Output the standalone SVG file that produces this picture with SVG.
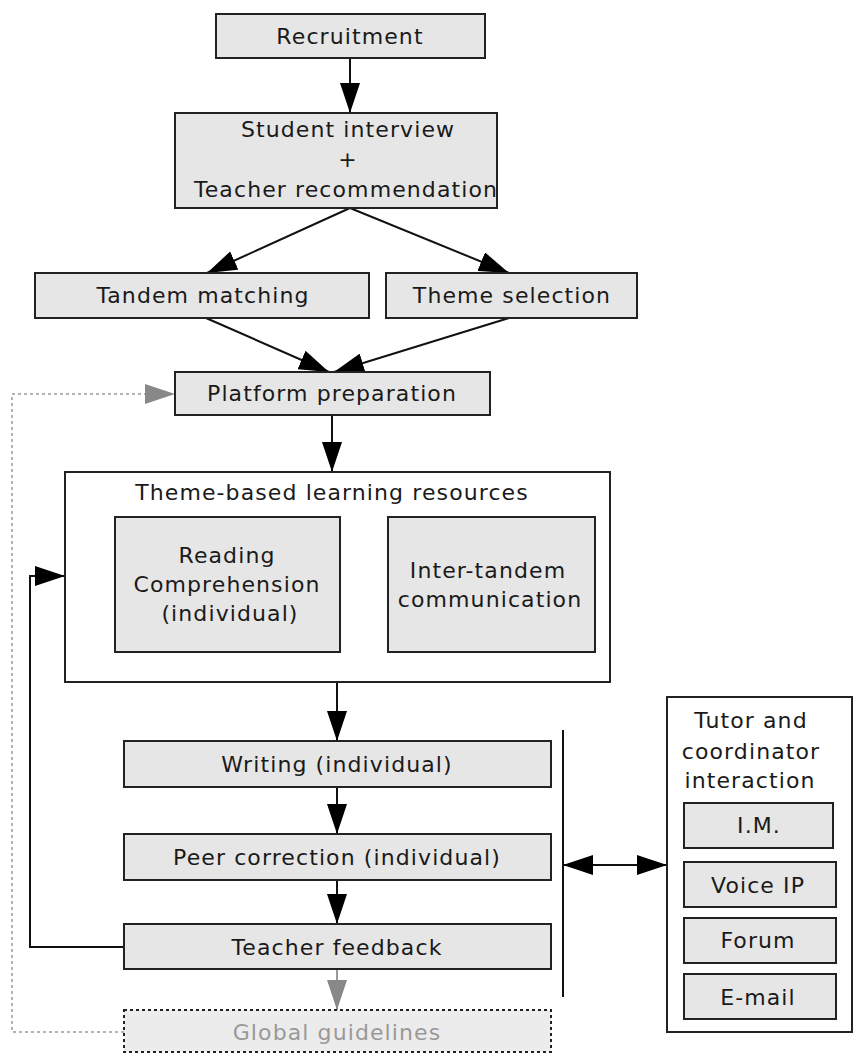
<svg xmlns="http://www.w3.org/2000/svg" width="853" height="1054" viewBox="0 0 853 1054">
<style>
.box{fill:#e6e6e6;stroke:#222;stroke-width:2}
.frame{fill:#fff;stroke:#222;stroke-width:2}
.ghost{fill:#ececec;stroke:#222;stroke-width:2;stroke-dasharray:3,3}
text{font-family:"DejaVu Sans","Liberation Sans",sans-serif;font-size:22px;fill:#1a1a1a;text-anchor:middle;letter-spacing:1.1px}
.gt{fill:#999}
.c{fill:none;stroke:#111;stroke-width:2}
.g{fill:none;stroke:#999;stroke-width:2}
.d{fill:none;stroke:#999;stroke-width:1.5;stroke-dasharray:3,3}
</style>
<defs>
<marker id="ah" markerUnits="userSpaceOnUse" markerWidth="30" markerHeight="20" refX="30" refY="10" orient="auto-start-reverse"><path d="M0,0 L30,10 L0,20 z" fill="#000"/></marker>
<marker id="ahg" markerUnits="userSpaceOnUse" markerWidth="30" markerHeight="20" refX="30" refY="10" orient="auto"><path d="M0,0 L30,10 L0,20 z" fill="#888"/></marker>
</defs>
<g id="connectors">
<line class="c" x1="350" y1="58" x2="350" y2="113" marker-end="url(#ah)"/>
<line class="c" x1="350" y1="208" x2="207" y2="273" marker-end="url(#ah)"/>
<line class="c" x1="350" y1="208" x2="509" y2="273" marker-end="url(#ah)"/>
<line class="c" x1="206" y1="318" x2="329" y2="372" marker-end="url(#ah)"/>
<line class="c" x1="509" y1="318" x2="334" y2="372" marker-end="url(#ah)"/>
<line class="c" x1="332" y1="415" x2="332" y2="472" marker-end="url(#ah)"/>
<line class="c" x1="337" y1="682" x2="337" y2="741" marker-end="url(#ah)"/>
<line class="c" x1="337" y1="787" x2="337" y2="834" marker-end="url(#ah)"/>
<line class="c" x1="337" y1="880" x2="337" y2="924" marker-end="url(#ah)"/>
<line class="g" x1="337" y1="969" x2="337" y2="1010" marker-end="url(#ahg)"/>
<polyline class="c" points="124,947 30,947 30,576 65,576" marker-end="url(#ah)"/>
<polyline class="d" points="124,1032 12,1032 12,394 175,394" marker-end="url(#ahg)"/>
<line class="c" x1="563" y1="730" x2="563" y2="997"/>
<line class="c" x1="563" y1="865" x2="667" y2="865" marker-start="url(#ah)" marker-end="url(#ah)"/>
</g>
<g id="recruitment"><rect class="box" x="216" y="14" width="269" height="44"/><text x="350" y="44">Recruitment</text></g>
<g id="interview"><rect class="box" x="175" y="113" width="322" height="95"/><text x="348" y="137">Student interview</text><text x="348" y="167">+</text><text x="346" y="197">Teacher recommendation</text></g>
<g id="tandem"><rect class="box" x="35" y="273" width="334" height="45"/><text x="203" y="303">Tandem matching</text></g>
<g id="theme"><rect class="box" x="386" y="273" width="251" height="45"/><text x="512" y="303">Theme selection</text></g>
<g id="platform"><rect class="box" x="175" y="372" width="315" height="43"/><text x="332" y="401">Platform preparation</text></g>
<g id="resources"><rect class="frame" x="65" y="472" width="545" height="210"/><text x="332" y="500">Theme-based learning resources</text>
<rect class="box" x="115" y="517" width="225" height="135"/><text x="227" y="563">Reading</text><text x="227" y="592">Comprehension</text><text x="230" y="621">(individual)</text>
<rect class="box" x="388" y="517" width="207" height="135"/><text x="488" y="578">Inter-tandem</text><text x="490" y="607">communication</text></g>
<g id="writing"><rect class="box" x="124" y="741" width="427" height="46"/><text x="337" y="772">Writing (individual)</text></g>
<g id="peer"><rect class="box" x="124" y="834" width="427" height="46"/><text x="337" y="865">Peer correction (individual)</text></g>
<g id="feedback"><rect class="box" x="124" y="924" width="427" height="45"/><text x="337" y="955">Teacher feedback</text></g>
<g id="guidelines"><rect class="ghost" x="124" y="1010" width="427" height="42"/><text class="gt" x="337" y="1040">Global guidelines</text></g>
<g id="tutor"><rect class="frame" x="667" y="697" width="185" height="335"/><text x="751" y="728">Tutor and</text><text x="751" y="759">coordinator</text><text x="750" y="788">interaction</text>
<rect class="box" x="684" y="803" width="149" height="45"/><text x="759" y="833">I.M.</text>
<rect class="box" x="684" y="862" width="152" height="45"/><text x="758" y="893">Voice IP</text>
<rect class="box" x="684" y="918" width="152" height="45"/><text x="758" y="948">Forum</text>
<rect class="box" x="684" y="974" width="152" height="45"/><text x="758" y="1005">E-mail</text></g>
</svg>
